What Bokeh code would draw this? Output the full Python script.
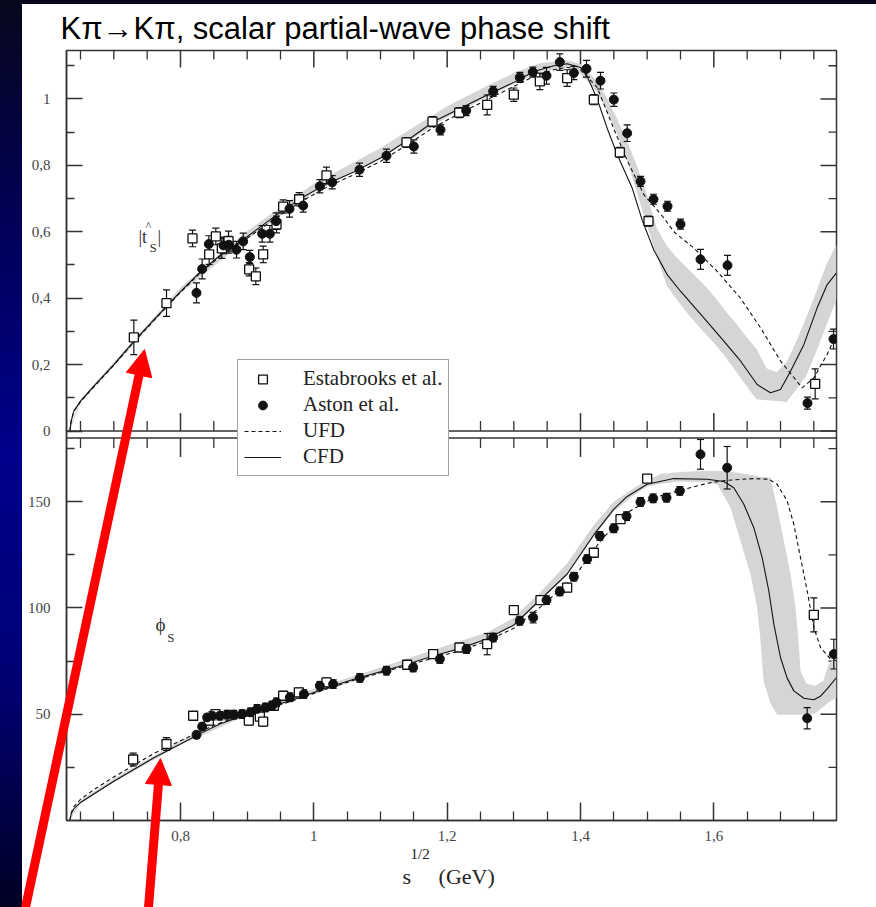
from bokeh.plotting import figure
from bokeh.models import (Range1d, FixedTicker, Span, Label, Legend, LegendItem, Arrow,
                          NormalHead, Div, Title)
from bokeh.layouts import row, column
from bokeh.embed import file_html
from bokeh.resources import INLINE

# ---------------- ticks ----------------
x_major = [0.8, 1.0, 1.2, 1.4, 1.6]
x_major_labels = ["0,8", "1", "1,2", "1,4", "1,6"]
x_minor = [0.65, 0.7, 0.75, 0.85, 0.9, 0.95, 1.05, 1.1, 1.15, 1.25, 1.3, 1.35,
           1.45, 1.5, 1.55, 1.65, 1.7, 1.75]
t_major = [0.0, 0.2, 0.4, 0.6, 0.8, 1.0]
t_major_labels = ["0", "0,2", "0,4", "0,6", "0,8", "1"]
t_minor = [0.1, 0.3, 0.5, 0.7, 0.9, 1.1]
phi_major = [50, 100, 150]
phi_major_labels = ["50", "100", "150"]
phi_minor = [25, 75, 125, 175]

# ---------------- |t_S| panel data ----------------
est_t_x = [0.730, 0.779, 0.818, 0.843, 0.853, 0.862, 0.872, 0.903, 0.913, 0.924, 0.944,
           0.954, 0.978, 1.019, 1.139, 1.178, 1.218, 1.260, 1.300, 1.339, 1.380, 1.420,
           1.459, 1.502, 1.752]
est_t_y = [0.282, 0.385, 0.580, 0.532, 0.586, 0.550, 0.572, 0.487, 0.466, 0.532, 0.622,
           0.676, 0.698, 0.770, 0.869, 0.932, 0.959, 0.982, 1.013, 1.053, 1.063, 0.998,
           0.839, 0.632, 0.142]
est_t_err = [0.052, 0.040, 0.025, 0.030, 0.025, 0.030, 0.030, 0.020, 0.025, 0.025, 0.025,
             0.020, 0.020, 0.025, 0.015, 0.015, 0.015, 0.030, 0.020, 0.025, 0.025, 0.015,
             0.015, 0.015, 0.045]

ast_t_x = [0.824, 0.8325, 0.8425, 0.8645, 0.8725, 0.884, 0.894, 0.904, 0.9225, 0.934,
           0.9435, 0.9635, 0.984, 1.009, 1.0275, 1.0685, 1.109, 1.150, 1.190, 1.2285,
           1.269, 1.309, 1.3285, 1.349, 1.369, 1.390, 1.409, 1.430, 1.450, 1.470, 1.490,
           1.5095, 1.5305, 1.550, 1.580, 1.6205, 1.7405, 1.7795]
ast_t_y = [0.416, 0.488, 0.563, 0.559, 0.561, 0.546, 0.571, 0.524, 0.594, 0.594, 0.632,
           0.669, 0.679, 0.737, 0.749, 0.787, 0.829, 0.857, 0.907, 0.965, 1.023, 1.065,
           1.081, 1.070, 1.111, 1.078, 1.091, 1.055, 0.998, 0.897, 0.752, 0.698, 0.677,
           0.623, 0.517, 0.499, 0.084, 0.277]
ast_t_err = [0.030, 0.030, 0.025, 0.025, 0.025, 0.025, 0.025, 0.020, 0.025, 0.025, 0.025,
             0.025, 0.020, 0.020, 0.020, 0.020, 0.020, 0.020, 0.015, 0.015, 0.015, 0.015,
             0.015, 0.025, 0.025, 0.020, 0.025, 0.025, 0.020, 0.025, 0.015, 0.015, 0.015,
             0.015, 0.030, 0.030, 0.018, 0.030]

cfd_t_x = [0.634, 0.636, 0.64, 0.65, 0.67, 0.70, 0.73, 0.76, 0.80, 0.83, 0.86, 0.90, 0.94,
           0.98, 1.02, 1.06, 1.10, 1.14, 1.18, 1.22, 1.26, 1.30, 1.33, 1.36, 1.38, 1.40,
           1.41, 1.425, 1.44, 1.455, 1.4775, 1.4925, 1.51, 1.53, 1.55, 1.585, 1.615, 1.64,
           1.665, 1.685, 1.70, 1.715, 1.735, 1.755, 1.77, 1.784]
cfd_t_y = [0.0, 0.03, 0.06, 0.09, 0.135, 0.20, 0.27, 0.335, 0.42, 0.48, 0.53, 0.585, 0.645,
           0.70, 0.745, 0.78, 0.822, 0.875, 0.932, 0.972, 1.012, 1.05, 1.083, 1.10, 1.106,
           1.095, 1.068, 1.0, 0.912, 0.833, 0.732, 0.635, 0.545, 0.471, 0.421, 0.341, 0.271,
           0.211, 0.14, 0.115, 0.125, 0.18, 0.26, 0.371, 0.441, 0.476]

ufd_t_x = [0.634, 0.636, 0.64, 0.65, 0.67, 0.70, 0.73, 0.76, 0.80, 0.83, 0.86, 0.90, 0.94,
           0.98, 1.02, 1.06, 1.10, 1.14, 1.18, 1.22, 1.26, 1.30, 1.33, 1.36, 1.38, 1.40,
           1.425, 1.45, 1.47, 1.495, 1.525, 1.54, 1.57, 1.605, 1.64, 1.67, 1.70, 1.7325,
           1.75, 1.77, 1.784]
ufd_t_y = [0.0, 0.03, 0.06, 0.088, 0.133, 0.198, 0.268, 0.333, 0.418, 0.477, 0.527, 0.58,
           0.638, 0.69, 0.735, 0.772, 0.812, 0.862, 0.915, 0.958, 0.998, 1.038, 1.068,
           1.088, 1.095, 1.088, 1.035, 0.91, 0.815, 0.712, 0.642, 0.60, 0.551, 0.481, 0.40,
           0.311, 0.211, 0.13, 0.16, 0.231, 0.291]

band_t_x = [0.634, 0.65, 0.70, 0.80, 0.90, 1.00, 1.10, 1.20, 1.26, 1.30, 1.34, 1.38, 1.40,
            1.424, 1.439, 1.454, 1.469, 1.484, 1.499, 1.514, 1.529, 1.544, 1.559, 1.574,
            1.589, 1.604, 1.619, 1.634, 1.649, 1.664, 1.679, 1.694, 1.709, 1.724, 1.739,
            1.754, 1.769, 1.784]
band_t_lo = [0.0, 0.085, 0.195, 0.415, 0.578, 0.718, 0.822, 0.945, 1.005, 1.045, 1.082,
             1.095, 1.075, 1.023, 0.965, 0.899, 0.821, 0.722, 0.623, 0.529, 0.439, 0.397,
             0.358, 0.322, 0.289, 0.256, 0.219, 0.177, 0.135, 0.096, 0.093, 0.090, 0.087,
             0.126, 0.168, 0.241, 0.319, 0.397]
band_t_hi = [0.01, 0.095, 0.207, 0.432, 0.602, 0.745, 0.852, 0.978, 1.04, 1.078, 1.108,
             1.117, 1.105, 1.056, 1.005, 0.944, 0.877, 0.803, 0.716, 0.614, 0.559, 0.523,
             0.493, 0.463, 0.433, 0.397, 0.358, 0.322, 0.283, 0.247, 0.189, 0.177, 0.207,
             0.271, 0.343, 0.421, 0.502, 0.562]

# ---------------- phi_S panel data ----------------
est_p_x = [0.729, 0.779, 0.819, 0.8425, 0.8525, 0.9025, 0.919, 0.924, 0.940, 0.954, 0.9775,
           1.019, 1.140, 1.179, 1.2185, 1.260, 1.300, 1.340, 1.380, 1.420, 1.460, 1.500,
           1.750]
est_p_y = [28.7, 36.0, 49.3, 47.0, 50.1, 47.0, 48.9, 46.5, 54.0, 58.7, 60.3, 65.0, 73.3,
           78.3, 81.4, 83.0, 99.0, 103.7, 109.6, 126.0, 141.8, 160.9, 96.8]
est_p_err = [3, 3, 1.5, 2, 2, 2, 2, 2, 2, 2, 2, 2, 2, 1.5, 1.5, 5, 2, 2, 2, 2, 2, 1.5, 8]

ast_p_x = [0.824, 0.8325, 0.840, 0.8475, 0.859, 0.870, 0.880, 0.8925, 0.905, 0.915, 0.9275,
           0.9375, 0.944, 0.964, 0.985, 1.009, 1.029, 1.069, 1.109, 1.149, 1.189, 1.229,
           1.269, 1.309, 1.329, 1.349, 1.369, 1.390, 1.410, 1.429, 1.450, 1.469, 1.490,
           1.509, 1.529, 1.549, 1.580, 1.620, 1.740, 1.780]
ast_p_y = [40.3, 44.2, 48.5, 49.3, 49.3, 49.8, 49.8, 50.1, 50.9, 52.5, 53.2, 54.0, 55.6,
           58.0, 59.5, 63.4, 64.2, 67.1, 70.5, 72.0, 76.0, 80.7, 86.1, 94.0, 95.5, 103.7,
           107.8, 114.7, 123.0, 133.9, 137.5, 143.2, 149.9, 151.6, 151.9, 155.1, 172.3,
           166.0, 48.1, 78.3]
ast_p_err = [1.5, 1.5, 1.5, 2, 2, 2, 2, 2, 2, 2, 2, 2, 2, 2, 2, 2, 2, 2, 2, 2, 2, 2, 2, 2,
             2.5, 2, 2, 2, 2, 2, 2, 2, 2, 2, 2, 2, 7, 10, 5, 7]

cfd_p_x = [0.634, 0.636, 0.64, 0.65, 0.67, 0.70, 0.73, 0.76, 0.80, 0.83, 0.86, 0.90, 0.94,
           0.98, 1.02, 1.06, 1.10, 1.14, 1.18, 1.22, 1.26, 1.30, 1.34, 1.38, 1.42, 1.45,
           1.47, 1.50, 1.54, 1.59, 1.615, 1.63, 1.645, 1.66, 1.6725, 1.6825, 1.69, 1.70,
           1.71, 1.72, 1.735, 1.75, 1.76, 1.77, 1.784]
cfd_p_y = [0, 3, 5.5, 8.5, 12.5, 18.5, 24, 29.5, 36, 41, 45.5, 50, 54, 58, 62.5, 66.5, 70,
           73.5, 77.5, 81, 85.5, 92, 104, 116, 134.5, 146.5, 152.5, 158.2, 160.9, 160.6,
           159.5, 156.6, 148.8, 137.8, 123.7, 108, 92.4, 76.7, 67, 61, 57.5, 56.8, 58.5,
           61.9, 67.3]

ufd_p_x = [0.634, 0.636, 0.64, 0.65, 0.67, 0.70, 0.73, 0.76, 0.80, 0.83, 0.86, 0.90, 0.94,
           0.98, 1.02, 1.06, 1.10, 1.14, 1.18, 1.22, 1.26, 1.30, 1.34, 1.39, 1.43, 1.47,
           1.51, 1.55, 1.59, 1.62, 1.66, 1.6825, 1.695, 1.71, 1.72, 1.73, 1.74, 1.75, 1.76,
           1.775, 1.784]
ufd_p_y = [0, 3.5, 6.5, 10, 14.5, 20.5, 26, 31.5, 37.5, 42, 46, 50, 53.5, 57.5, 62, 66,
           69.5, 73, 76.5, 80, 84.5, 90.5, 100.5, 114.3, 131.6, 144.9, 151.9, 155.4, 158.7,
           160.1, 160.9, 160.6, 158.2, 150.4, 139.4, 123.7, 108.1, 90.8, 81.4, 76, 75.2]

band_p_x = [0.634, 0.65, 0.70, 0.80, 0.90, 1.00, 1.10, 1.20, 1.26, 1.30, 1.34, 1.38, 1.42,
            1.45, 1.48, 1.50, 1.52, 1.55, 1.58, 1.59, 1.605, 1.6145, 1.625, 1.64, 1.655,
            1.665, 1.67, 1.6745, 1.685, 1.695, 1.705, 1.715, 1.7225, 1.727, 1.73, 1.739,
            1.7525, 1.7645, 1.772, 1.784]
band_p_lo = [0, 8, 18, 35.5, 49.5, 59.5, 69.5, 79.5, 85, 91.5, 103.5, 115.5, 133.5, 145.5,
             153, 157, 158.5, 159.5, 159.3, 159.3, 158.2, 153.2, 147.2, 131.6, 115.9, 100.2,
             84.6, 65.8, 55, 49.8, 49.8, 49.8, 49.8, 49.8, 49.8, 49.8, 50.5, 53.5, 55.5,
             57.8]
band_p_hi = [1, 9.5, 19.8, 37.5, 51.5, 62, 72, 82.5, 88.5, 95.5, 107.5, 121, 139, 150,
             156.5, 160, 163, 164, 164.5, 164.5, 164.5, 164.5, 164, 163.5, 162.6, 162.1,
             161.7, 161.7, 161.3, 147.2, 131.6, 115.9, 100.2, 84.6, 70.5, 64.4, 63.4, 65.8,
             73.3, 77.5]

# red slide arrows (tail -> tip): x in GeV, y in phase-panel units
arrow_x0 = [0.5675, 0.752]
arrow_y0 = [-40.9, -40.9]
arrow_x1 = [0.746, 0.770]
arrow_y1 = [221.3, 29.1]

# ---------------- geometry (page pixels) ----------------
PAGE_W, PAGE_H = 876, 907
STRIP_H, BAND_W = 4, 22
FR_L, FR_R, FR_T, FR_B = 66, 836, 49, 820
X_RANGE = (0.629, 1.784)
T_TOP = 1.146
TOP_H, GAP_H, BOT_H = 381, 7, 383
t_per_px = T_TOP / TOP_H
t_lo = -t_per_px * (GAP_H + BOT_H)
phi_per_px = 180.0 / BOT_H
phi_hi = 180.0 + phi_per_px * (GAP_H + TOP_H)
x_per_px = (X_RANGE[1] - X_RANGE[0]) / (FR_R - FR_L)


def phi_to_main(v):
    return t_lo + v / phi_hi * (T_TOP - t_lo)


INK = "#333333"
SERIF = "Liberation Serif"

P_W, P_H = PAGE_W - BAND_W, PAGE_H - STRIP_H
p = figure(width=P_W, height=P_H, x_range=Range1d(*X_RANGE), y_range=Range1d(t_lo, T_TOP),
           output_backend="svg", toolbar_location=None,
           min_border_left=FR_L - BAND_W, min_border_right=PAGE_W - FR_R,
           min_border_top=FR_T - STRIP_H, min_border_bottom=PAGE_H - FR_B)
p.extra_y_ranges = {"phase": Range1d(0, phi_hi)}
p.grid.visible = False
p.background_fill_color = "white"
p.border_fill_color = "white"
p.outline_line_color = INK
p.outline_line_width = 1.5

# title
p.title.text = "Kπ→Kπ, scalar partial-wave phase shift"
p.title.text_font = "Liberation Sans"
p.title.text_font_size = "31px"
p.title.text_font_style = "normal"
p.title.text_color = "black"
p.title.align = "left"
p.title.offset = -6
p.title.standoff = 9

xticker = FixedTicker(ticks=x_major, minor_ticks=x_minor)
y_ticks_main = t_major + [phi_to_main(v) for v in phi_major]
y_minor_main = t_minor + [phi_to_main(v) for v in phi_minor]
yticker = FixedTicker(ticks=y_ticks_main, minor_ticks=y_minor_main)
y_over = {k: s for k, s in zip(t_major, t_major_labels)}
for v, s in zip(phi_major, phi_major_labels):
    y_over[phi_to_main(v)] = s


def style_axis(ax):
    ax.axis_line_color = INK
    ax.axis_line_width = 1.5
    ax.major_tick_line_color = INK
    ax.major_tick_line_width = 1.5
    ax.minor_tick_line_color = INK
    ax.minor_tick_line_width = 1.3
    ax.major_tick_out = 0
    ax.minor_tick_out = 0
    ax.major_label_text_font = SERIF
    ax.major_label_text_color = "#444444"
    ax.major_label_text_font_size = "15px"


xb = p.xaxis[0]
xb.ticker = xticker
xb.major_label_overrides = {k: s for k, s in zip(x_major, x_major_labels)}
style_axis(xb)
xb.major_tick_in = 18
xb.minor_tick_in = 9
xb.major_label_standoff = 10

yl = p.yaxis[0]
yl.ticker = yticker
yl.major_label_overrides = y_over
style_axis(yl)
yl.major_tick_in = 16
yl.minor_tick_in = 8
yl.major_label_standoff = 16

# x-axis title: s^{1/2}(GeV) as two stacked rows below the axis
p.add_layout(Title(text="1/2", text_font=SERIF, text_font_size="15px",
                   text_font_style="normal", text_color="#222222", align="left",
                   offset=410 - FR_L, standoff=0), "below")
p.add_layout(Title(text="s\u00a0\u00a0\u00a0\u00a0\u00a0(GeV)", text_font=SERIF,
                   text_font_size="22px", text_font_style="normal", text_color="#222222",
                   align="left", offset=402 - FR_L, standoff=0), "below")

# ticks on top / right frame edges and on the inner panel borders
nM, nm = len(x_major), len(x_minor)
p.segment(x0=x_major, y0=[T_TOP] * nM, x1=x_major, y1=[T_TOP - 17 * t_per_px] * nM,
          line_color=INK, line_width=1.5)
p.segment(x0=x_minor, y0=[T_TOP] * nm, x1=x_minor, y1=[T_TOP - 9 * t_per_px] * nm,
          line_color=INK, line_width=1.3)
p.segment(x0=[X_RANGE[1]] * len(y_ticks_main), y0=y_ticks_main,
          x1=[X_RANGE[1] - 16 * x_per_px] * len(y_ticks_main), y1=y_ticks_main,
          line_color=INK, line_width=1.5)
p.segment(x0=[X_RANGE[1]] * len(y_minor_main), y0=y_minor_main,
          x1=[X_RANGE[1] - 8 * x_per_px] * len(y_minor_main), y1=y_minor_main,
          line_color=INK, line_width=1.3)
p.add_layout(Span(location=0, dimension="width", line_color=INK, line_width=1.5))
p.add_layout(Span(location=180, dimension="width", line_color=INK, line_width=1.5,
                  y_range_name="phase"))
p.segment(x0=x_major, y0=[0] * nM, x1=x_major, y1=[18 * t_per_px] * nM,
          line_color=INK, line_width=1.5)
p.segment(x0=x_minor, y0=[0] * nm, x1=x_minor, y1=[10 * t_per_px] * nm,
          line_color=INK, line_width=1.3)
p.segment(x0=x_major, y0=[180] * nM, x1=x_major, y1=[180 - 19 * phi_per_px] * nM,
          line_color=INK, line_width=1.5, y_range_name="phase")
p.segment(x0=x_minor, y0=[180] * nm, x1=x_minor, y1=[180 - 10 * phi_per_px] * nm,
          line_color=INK, line_width=1.3, y_range_name="phase")

# bands
BAND = "#d5d5d5"
p.varea(x=band_t_x, y1=band_t_lo, y2=band_t_hi, fill_color=BAND)
p.varea(x=band_p_x, y1=band_p_lo, y2=band_p_hi, fill_color=BAND, y_range_name="phase")

# curves
ufd_r = p.line(ufd_t_x, ufd_t_y, line_color="#111111", line_width=1.1, line_dash="4 3")
cfd_r = p.line(cfd_t_x, cfd_t_y, line_color="#111111", line_width=1.1)
p.line(ufd_p_x, ufd_p_y, line_color="#111111", line_width=1.1, line_dash="4 3",
       y_range_name="phase")
p.line(cfd_p_x, cfd_p_y, line_color="#111111", line_width=1.1, y_range_name="phase")


def errbars(xs, ys, es, rng=None):
    kw = {} if rng is None else {"y_range_name": rng}
    lo = [y - e for y, e in zip(ys, es)]
    hi = [y + e for y, e in zip(ys, es)]
    p.segment(x0=xs, y0=lo, x1=xs, y1=hi, line_color="#111111", line_width=1.2, **kw)
    p.scatter(xs + xs, lo + hi, marker="dash", size=7, line_color="#111111",
              line_width=1.2, **kw)


errbars(est_t_x, est_t_y, est_t_err)
errbars(ast_t_x, ast_t_y, ast_t_err)
errbars(est_p_x, est_p_y, est_p_err, "phase")
errbars(ast_p_x, ast_p_y, ast_p_err, "phase")

est_r = p.scatter(est_t_x, est_t_y, marker="square", size=9, fill_color="white",
                  line_color="#111111", line_width=1.3)
ast_r = p.scatter(ast_t_x, ast_t_y, marker="circle", size=9, fill_color="#111111",
                  line_color="#111111")
p.scatter(est_p_x, est_p_y, marker="square", size=9, fill_color="white",
          line_color="#111111", line_width=1.3, y_range_name="phase")
p.scatter(ast_p_x, ast_p_y, marker="circle", size=9, fill_color="#111111",
          line_color="#111111", y_range_name="phase")

# panel labels
lab = dict(text_font=SERIF, text_color="#333333", text_baseline="middle")
p.add_layout(Label(x=0.737, y=0.583, text="|t", text_font_size="18px", **lab))
p.add_layout(Label(x=0.7475, y=0.617, text="^", text_font_size="12px", **lab))
p.add_layout(Label(x=0.7535, y=0.553, text="S", text_font_size="13px", **lab))
p.add_layout(Label(x=0.7655, y=0.583, text="|", text_font_size="18px", **lab))
p.add_layout(Label(x=0.7625, y=92.1, text="ϕ", text_font_size="19px", y_range_name="phase", **lab))
p.add_layout(Label(x=0.7800, y=86.0, text="S", text_font_size="13px", y_range_name="phase", **lab))

# legend
legend = Legend(items=[LegendItem(label="Estabrooks et al.", renderers=[est_r]),
                       LegendItem(label="Aston et al.", renderers=[ast_r]),
                       LegendItem(label="UFD", renderers=[ufd_r]),
                       LegendItem(label="CFD", renderers=[cfd_r])],
                location=(171, 344), margin=0, padding=6, spacing=1,
                label_height=22, glyph_height=22, glyph_width=37, label_standoff=22,
                label_text_font=SERIF, label_text_font_size="21px",
                label_text_color="#222222", border_line_color="#444444",
                border_line_width=1.5, background_fill_color="white",
                background_fill_alpha=1.0)
p.add_layout(legend)

# transparent overlay over the whole page for the red slide arrows (same data scales)
ov = figure(width=PAGE_W, height=PAGE_H,
            x_range=Range1d(X_RANGE[0] - FR_L * x_per_px,
                            X_RANGE[0] + (PAGE_W - FR_L) * x_per_px),
            y_range=Range1d(-(PAGE_H - FR_B) * phi_per_px, FR_B * phi_per_px),
            output_backend="svg", toolbar_location=None, x_axis_type=None,
            y_axis_type=None, min_border=0, min_border_left=0, min_border_right=0,
            min_border_top=0, min_border_bottom=0,
            styles={"position": "absolute", "left": "0px", "top": "0px",
                    "z-index": "10", "pointer-events": "none"})
ov.grid.visible = False
ov.outline_line_color = None
ov.background_fill_color = None
ov.border_fill_color = None
for x0, y0, x1, y1 in zip(arrow_x0, arrow_y0, arrow_x1, arrow_y1):
    ov.add_layout(Arrow(end=NormalHead(size=26, fill_color="red", line_color="red"),
                        x_start=x0, y_start=y0, x_end=x1, y_end=y1,
                        line_color="red", line_width=9))

top_strip = Div(text="", width=PAGE_W, height=STRIP_H, margin=0,
                styles={"background": "#07071e"})
band_div = Div(text="", width=BAND_W, height=P_H, margin=0,
               styles={"background": "linear-gradient(180deg, #07071e 0%, #00005a 25%, "
                                     "#00008c 50%, #000074 75%, #000024 100%)"})

layout = column(top_strip, row(band_div, p, spacing=0), ov, spacing=0)
open("out.html", "w").write(file_html(layout, INLINE))
